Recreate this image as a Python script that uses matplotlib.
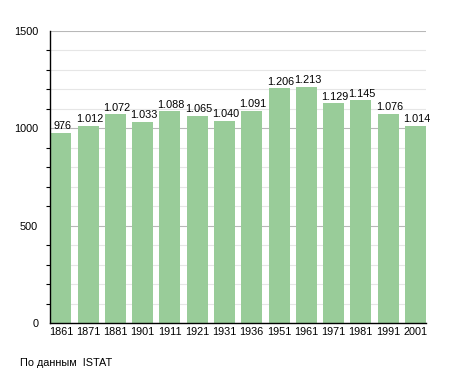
import matplotlib.pyplot as plt
from matplotlib.ticker import MultipleLocator

years = ['1861', '1871', '1881', '1901', '1911', '1921', '1931', '1936',
         '1951', '1961', '1971', '1981', '1991', '2001']
population = [976, 1012, 1072, 1033, 1088, 1065, 1040, 1091,
              1206, 1213, 1129, 1145, 1076, 1014]
y_ticks = [0, 500, 1000, 1500]

plt.rcParams['font.family'] = ['Liberation Sans', 'DejaVu Sans']

fig = plt.figure(figsize=(4.55, 3.73), dpi=100)
ax = fig.add_axes([50/455, 1-323/373, 376/455, 292/373])

x = range(len(years))
ax.bar(x, population, width=0.77, color='#99cc99', zorder=2)

# value labels, italian style thousands separator
for i, v in zip(x, population):
    lab = '{:,}'.format(v).replace(',', '.')
    ax.text(i + 0.05, v + 8, lab, ha='center', va='bottom', fontsize=7.8, zorder=3)

ax.set_xlim(-0.4, len(years) - 1 + 0.39)
ax.set_ylim(0, 1500)
ax.set_xticks(list(x))
ax.set_xticklabels(years, fontsize=7.8)
ax.set_yticks(y_ticks)
ax.set_yticklabels([str(t) for t in y_ticks], fontsize=7.8)
ax.yaxis.set_minor_locator(MultipleLocator(100))
ax.tick_params(axis='x', length=0, pad=3)
ax.tick_params(axis='y', which='major', length=0, pad=8.5)
ax.tick_params(axis='y', which='minor', length=3, width=0.8)

ax.grid(axis='y', which='minor', color='#e6e6e6', linewidth=0.8, zorder=0)
ax.grid(axis='y', which='major', color='#b8b8b8', linewidth=0.8, zorder=1)

for s in ['top', 'right']:
    ax.spines[s].set_visible(False)
ax.spines['left'].set_linewidth(1.0)
ax.spines['bottom'].set_linewidth(1.0)

fig.text(20/455, 1-363/373, 'По данным  ISTAT', fontsize=7.8, va='center')

fig.savefig('out.png', dpi=100)
